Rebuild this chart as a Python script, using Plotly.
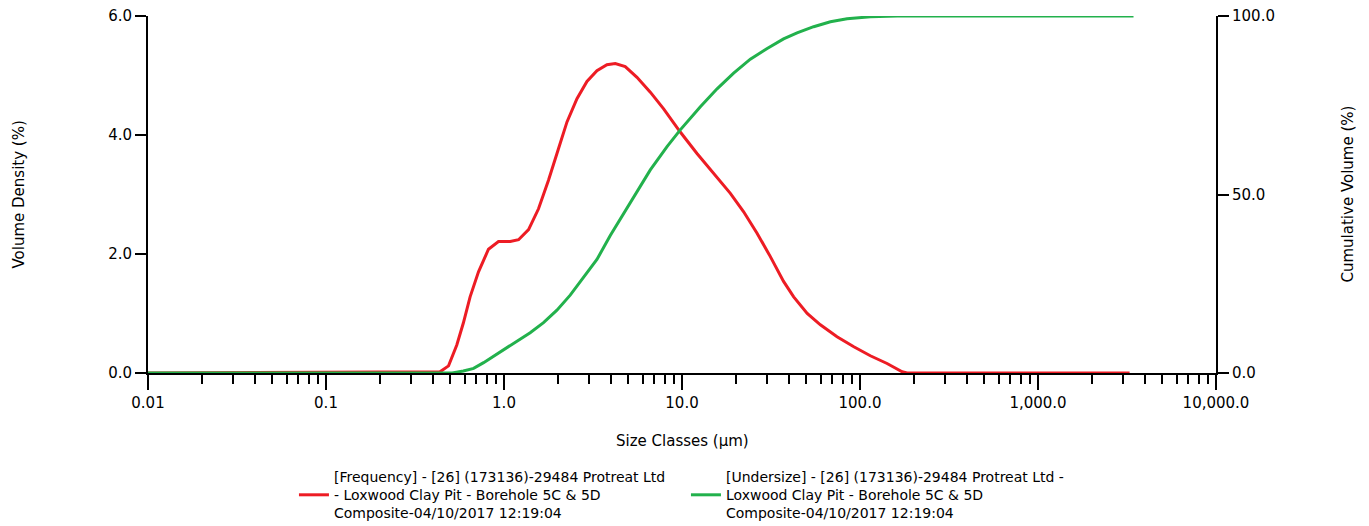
import plotly.graph_objects as go

# Frequency (Volume Density %)
freq_size = [0.01, 0.437, 0.488, 0.543, 0.591, 0.645, 0.719, 0.818, 0.931, 1.084, 1.207,
             1.374, 1.563, 1.778, 2.023, 2.259, 2.570, 2.924, 3.327, 3.786, 4.218, 4.799,
             5.585, 6.637, 7.885, 9.78, 12.14, 15.06, 18.69, 22.2, 26.4, 31.3, 37.2, 42.4,
             50.5, 59.9, 74.3, 92.3, 114.3, 141.9, 172.6, 184.0, 3270.0]
freq_vol = [0.0, 0.02, 0.12, 0.47, 0.84, 1.28, 1.70, 2.08, 2.21, 2.21, 2.24,
            2.41, 2.76, 3.24, 3.77, 4.22, 4.61, 4.90, 5.08, 5.18, 5.20, 5.15,
            4.97, 4.72, 4.44, 4.05, 3.69, 3.35, 3.02, 2.71, 2.35, 1.96, 1.54, 1.28,
            1.00, 0.81, 0.61, 0.44, 0.29, 0.16, 0.02, 0.0, 0.0]

# Undersize (Cumulative Volume %)
cum_size = [0.01, 0.512, 0.591, 0.675, 0.768, 0.912, 1.130, 1.403, 1.667, 1.983, 2.355,
            2.798, 3.327, 3.954, 5.346, 6.637, 8.24, 9.78, 12.68, 15.74, 19.50, 24.2,
            30.1, 37.2, 44.3, 54.9, 68.2, 84.6, 114.3, 161.8, 3440.0]
cum_vol = [0.0, 0.0, 0.56, 1.3, 2.9, 5.3, 8.3, 11.3, 14.1, 17.6, 21.8,
           26.7, 31.8, 38.5, 49.4, 56.9, 63.4, 68.1, 74.6, 79.6, 84.0, 87.9,
           90.9, 93.6, 95.3, 97.0, 98.4, 99.2, 99.8, 100.0, 100.0]

x_tick_vals = [0.01, 0.1, 1, 10, 100, 1000, 10000]
x_tick_text = ["0.01", "0.1", "1.0", "10.0", "100.0", "1,000.0", "10,000.0"]
x_minor_vals = [m * 10 ** e for e in range(-2, 4) for m in range(2, 10)]
y_left_ticks = [0, 2, 4, 6]
y_right_ticks = [0, 50, 100]

freq_name = ("[Frequency] - [26] (173136)-29484 Protreat Ltd<br>"
             "- Loxwood Clay Pit - Borehole 5C & 5D<br>"
             "Composite-04/10/2017 12:19:04")
cum_name = ("[Undersize] - [26] (173136)-29484 Protreat Ltd -<br>"
            "Loxwood Clay Pit - Borehole 5C & 5D<br>"
            "Composite-04/10/2017 12:19:04")

FONT = "DejaVu Sans"
RED = "#ED1C24"
GREEN = "#22B14C"

fig = go.Figure()
fig.add_trace(go.Scatter(x=freq_size, y=freq_vol, mode="lines", name=freq_name,
                         line=dict(color=RED, width=3), yaxis="y"))
fig.add_trace(go.Scatter(x=cum_size, y=cum_vol, mode="lines", name=cum_name,
                         line=dict(color=GREEN, width=3), yaxis="y2"))

axis_common = dict(showgrid=False, zeroline=False, showline=True, linecolor="black",
                   linewidth=2, ticks="outside", tickcolor="black", tickwidth=1.5,
                   automargin=False, ticklabeloverflow="allow",
                   tickfont=dict(family=FONT, size=15, color="black"))

# page body has an 8px margin, so the figure is sized to fit inside the window
fig.update_layout(
    width=1361, height=518,
    margin=dict(l=140, r=153, t=8, b=153, autoexpand=False),
    paper_bgcolor="white", plot_bgcolor="white",
    font=dict(family=FONT, color="black"),
    xaxis=dict(type="log", range=[-2, 4], tickmode="array", tickvals=x_tick_vals,
               ticktext=x_tick_text, ticklen=15,
               minor=dict(tickmode="array", tickvals=x_minor_vals, ticks="outside",
                          ticklen=9, tickcolor="black", tickwidth=1.5),
               **axis_common),
    yaxis=dict(range=[0, 6], tickmode="array", tickvals=y_left_ticks, tickformat=".1f",
               ticklen=11, **axis_common),
    yaxis2=dict(range=[0, 100], overlaying="y", side="right", tickmode="array",
                tickvals=y_right_ticks, tickformat=".1f", ticklen=11, **axis_common),
    showlegend=True,
    legend=dict(orientation="h", x=0.5037, xanchor="center", xref="paper",
                y=1 - 453 / 518, yref="container", yanchor="top",
                font=dict(family=FONT, size=14, color="black"),
                entrywidth=347, valign="middle", itemwidth=30),
    annotations=[
        dict(text="Size Classes (µm)", x=0.5, y=-0.19, xref="paper", yref="paper",
             showarrow=False, xanchor="center", yanchor="middle",
             font=dict(family=FONT, size=15, color="black")),
        dict(text="Volume Density (%)", x=(18 - 148) / 1068, y=0.5, xref="paper",
             yref="paper", showarrow=False, textangle=-90, xanchor="center",
             yanchor="middle", font=dict(family=FONT, size=15, color="black")),
        dict(text="Cumulative Volume (%)", x=(1347 - 148) / 1068, y=0.5, xref="paper",
             yref="paper", showarrow=False, textangle=-90, xanchor="center",
             yanchor="middle", font=dict(family=FONT, size=15, color="black")),
    ],
)

fig.write_html("out.html")
